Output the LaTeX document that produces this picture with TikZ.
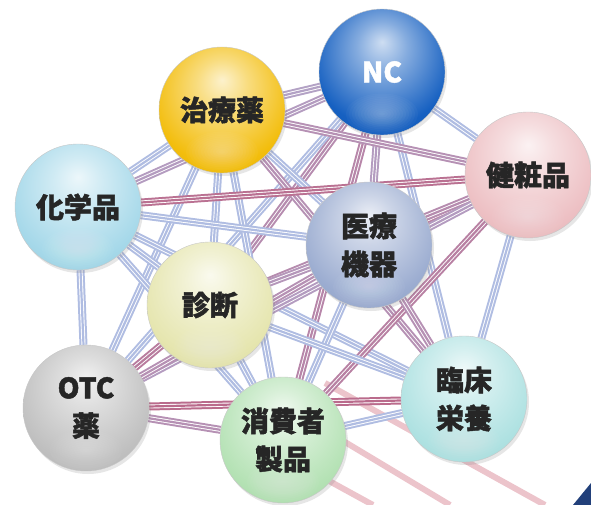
\documentclass[tikz,border=0pt]{standalone}
\usepackage{fontspec}
\setmainfont{Noto Sans CJK JP}[BoldFeatures={FakeBold=1.6}]
\usepackage{tikz}
\usetikzlibrary{backgrounds,shadows}
\definecolor{linklav}{RGB}{176,189,226}
\definecolor{linkrose}{RGB}{190,80,112}
\definecolor{streak}{RGB}{236,196,203}
\definecolor{cornerblue}{RGB}{34,64,122}
\definecolor{ncblue}{RGB}{10,88,190}
\definecolor{gold}{RGB}{242,186,0}
\definecolor{chemcyan}{RGB}{160,214,232}
\definecolor{cosmpink}{RGB}{236,188,192}
\definecolor{medsteel}{RGB}{150,168,206}
\definecolor{diagcream}{RGB}{228,228,170}
\definecolor{otcgrey}{RGB}{188,188,188}
\definecolor{consgreen}{RGB}{176,224,176}
\definecolor{clinaqua}{RGB}{170,224,224}
\colorlet{orbtint}{white}

% glassy sphere shading, tinted by orbtint
\pgfdeclareradialshading[orbtint]{glassorb}{\pgfpoint{0bp}{12bp}}{%
  color(0bp)=(orbtint!20!white); color(10bp)=(orbtint!50!white);
  color(28bp)=(orbtint!95!white); color(46bp)=(orbtint!90!black);
  color(60bp)=(orbtint!70!black)}

\begin{document}
\begin{tikzpicture}[x=1pt, y=-1pt,
  orb/.style={circle, minimum size=126pt, inner sep=0pt, align=center,
    font=\fontsize{28}{38}\selectfont\bfseries, text=black!85,
    /utils/exec={\colorlet{orbtint}{#1}}, shading=glassorb,
    draw=black!22, line width=0.4pt,
    drop shadow={opacity=0.2, shadow xshift=2pt, shadow yshift=-3pt},
    path picture={\foreach \s in {1,...,12}
      \fill[white, opacity=0.03]
        ([yshift=-42pt]path picture bounding box.center) ellipse ({3*\s pt} and {1.7*\s pt});}},
  link/.style={line width=8pt, draw=#1,
    postaction={draw=white, line width=4pt},
    postaction={draw=#1, line width=2.2pt}}
]
\useasboundingbox (0,0) rectangle (591,505);

% spheres
\node[orb=ncblue, text=white] (nc) at (382,72) {NC};
\node[orb=gold] (tx) at (222,110) {治療薬};
\node[orb=chemcyan] (chem) at (78,207) {化学品};
\node[orb=cosmpink] (cosm) at (528,175) {健粧品};
\node[orb=medsteel] (med) at (369,245) {医療\\機器};
\node[orb=diagcream] (diag) at (210,305) {診断};
\node[orb=otcgrey] (otc) at (86,408) {OTC\\薬};
\node[orb=consgreen] (cons) at (283,440) {消費者\\製品};
\node[orb=clinaqua] (clin) at (464,399) {臨床\\栄養};

\begin{scope}[on background layer]
  % faint streaks behind the network
  \draw[streak, line width=6pt] (325,383) -- (545,505);
  \draw[streak, line width=6pt] (300,415) -- (450,505);
  \draw[streak, line width=6pt] (300,465) -- (373,505);

  % links between every pair
  \foreach \a/\b/\c in {
      nc/tx/linkrose!25!linklav, nc/chem/linkrose!30!linklav, nc/cosm/linklav,
      nc/med/linkrose!30!linklav, nc/diag/linkrose!45!linklav, nc/otc/linklav,
      nc/cons/linkrose!50!linklav, nc/clin/linklav,
      tx/chem/linklav, tx/cosm/linkrose!40!linklav, tx/med/linklav,
      tx/diag/linklav, tx/otc/linklav, tx/cons/linklav,
      tx/clin/linkrose!40!linklav,
      chem/cosm/linkrose!70!linklav, chem/med/linklav, chem/diag/linklav,
      chem/otc/linklav, chem/cons/linklav, chem/clin/linklav,
      cosm/med/linkrose!55!linklav, cosm/diag/linkrose!45!linklav,
      cosm/otc/linkrose!30!linklav, cosm/cons/linkrose!55!linklav,
      cosm/clin/linklav,
      med/diag/linkrose!35!linklav, med/otc/linkrose!40!linklav,
      med/cons/linklav, med/clin/linkrose!40!linklav,
      diag/otc/linkrose!60!linklav, diag/cons/linklav, diag/clin/linklav,
      otc/cons/linkrose!40!linklav, otc/clin/linkrose!75!linklav,
      cons/clin/linklav}
    \draw[link=\c] (\a) -- (\b);
\end{scope}

% corner mark
\fill[cornerblue] (573,505) -- (591,505) -- (591,483) -- cycle;
\end{tikzpicture}
\end{document}
